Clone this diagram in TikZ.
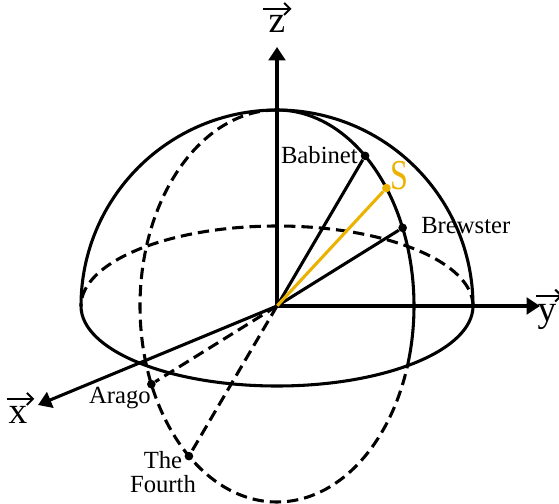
\documentclass[tikz,border=0pt]{standalone}
\usepackage{fontspec}
\usepackage{graphicx}
\setmainfont{Liberation Serif}
\usetikzlibrary{arrows.meta}
\definecolor{sgold}{RGB}{235,178,0}
\begin{document}
\begin{tikzpicture}[x=0.75pt,y=0.75pt,
  solidline/.style={line width=2.3pt},
  hidden/.style={line width=2.3pt, dash pattern=on 8.5pt off 4.5pt},
  axis/.style={line width=2.3pt,-{Triangle[length=10pt,width=12.5pt]}},
  vecarrow/.style={line width=1.5pt,-{Straight Barb[length=4.5pt,width=9pt]}},
  dot/.style={circle, fill=black, inner sep=0pt, minimum size=6.5pt},
  lab/.style={font=\fontsize{18.5}{18}\selectfont, inner sep=0pt},
  axlab/.style={font=\fontsize{28}{28}\selectfont, inner sep=0pt}]
\useasboundingbox (-277,-197) rectangle (282,306);
\coordinate (O) at (0,0);
\coordinate (zend) at (0,259);
\coordinate (yend) at (263,0);
\coordinate (xend) at (-239,-99);

% hemisphere outline
\draw[solidline] (196,0) arc[start angle=0,end angle=180,radius=196];
% equator
\draw[hidden] (196,0) arc[start angle=0,end angle=180,x radius=196,y radius=80];
\draw[solidline] (-196,0) arc[start angle=180,end angle=360,x radius=196,y radius=80];
% meridian great circle
\draw[solidline] ({137*cos(-17.7)},{196*sin(-17.7)}) arc[start angle=-17.7,end angle=90,x radius=137,y radius=196];
\draw[hidden] (0,196) arc[start angle=90,end angle=342.3,x radius=137,y radius=196];

% points
\node[dot] (bab) at ({137*cos(50)},{196*sin(50)}) {};
\node[dot,fill=sgold] (s) at ({137*cos(37)},{196*sin(37)}) {};
\node[dot] (brew) at ({137*cos(23.5)},{196*sin(23.5)}) {};
\node[dot] (arago) at ({137*cos(203.5)},{196*sin(203.5)}) {};
\node[dot] (fourth) at ({137*cos(230)},{196*sin(230)}) {};

% axes
\draw[axis] (O) -- (zend);
\draw[axis] (O) -- (yend);
\draw[axis] (O) -- (xend);

% radial lines
\draw[solidline] (O) -- (bab);
\draw[solidline] (O) -- (brew);
\draw[line width=2.3pt, sgold] (O) -- (s);
\draw[hidden] (O) -- (arago);
\draw[hidden] (O) -- (fourth);

% labels
\node[lab, anchor=east] (babl) at (81,151) {Babinet};
\node[lab, anchor=west] (brewl) at (144,80.5) {Brewster};
\node[lab, anchor=base east] (aragol) at (-126,-97) {Arago};
\node[lab, align=center, anchor=north] (fourthl) at (-114,-145) {The\\Fourth};
\node[inner sep=0pt, text=sgold, font=\fontsize{32}{32}\selectfont] (sl) at (122,130.5) {\scalebox{0.75}[1]{S}};

% axis labels
\node[axlab, anchor=base] (zl) at (0,273) {z};
\draw[vecarrow] ([xshift=-4pt,yshift=5pt]zl.north west) -- ([xshift=4.5pt,yshift=5pt]zl.north east);
\node[axlab, anchor=base] (yl) at (270,-15) {y};
\draw[vecarrow] ([xshift=-1pt,yshift=6pt]yl.north west) -- ([xshift=4.5pt,yshift=6pt]yl.north east);
\node[axlab, anchor=base] (xl) at (-259,-117) {x};
\draw[vecarrow] ([xshift=-1pt,yshift=5pt]xl.north west) -- ([xshift=5pt,yshift=5pt]xl.north east);
\end{tikzpicture}
\end{document}
